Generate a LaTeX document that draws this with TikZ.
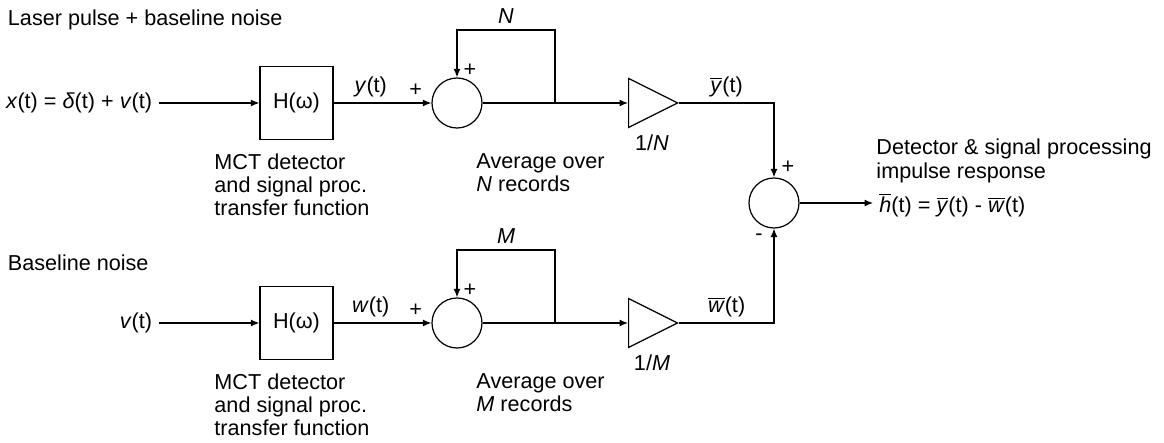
\documentclass[tikz,border=0pt]{standalone}
\usepackage{fontspec}
\setmainfont{Liberation Sans}
\usetikzlibrary{positioning,shapes.geometric,arrows.meta}
\newcommand{\ovl}[1]{$\overline{\hbox{\textit{#1}}}$}

\begin{document}
\begin{tikzpicture}[
  font=\fontsize{12.3}{13.2}\selectfont, line width=0.7pt,
  box/.style={draw, minimum size=1.46cm, inner sep=0pt},
  sumc/.style={draw, circle, minimum size=1cm, inner sep=0pt},
  amp/.style={draw, isosceles triangle, isosceles triangle stretches,
              minimum width=0.98cm, minimum height=0.98cm, inner sep=0pt},
  arr/.style={-{Latex[length=1.7mm, width=1.4mm]}},
  lbl/.style={align=left},
]
\useasboundingbox (0,0) rectangle (23.28,8.86);

% ---- Top branch: pulse + noise ----
\node[anchor=west] (ttl1) at (0.03, 8.46) {Laser pulse + baseline noise};
\node[anchor=east] (x1) at (3.17, 6.80) {\textit{x}(t) = \textit{δ}(t) + \textit{v}(t)};
\node[box] (h1) at (5.93, 6.80) {H(ω)};
\node[lbl, anchor=west] (h1txt) at (4.16, 5.16)
  {MCT detector\\and signal proc.\\transfer function};
\node[sumc] (s1) at (9.14, 6.80) {};
\coordinate (br1) at (11.10, 6.80);
\coordinate (top1) at (11.10, 8.26);
\node[amp, anchor=lower side] (a1) at (12.56, 6.80) {};
\node (g1) at (13.04, 6.00) {1/\textit{N}};
\node[lbl, anchor=west] (avg1) at (9.40, 5.40) {Average over\\\textit{N} records};

\draw[arr] (x1) -- (h1);
\draw[arr] (h1) -- node[pos=0.38, above] {\textit{y}(t)}
                   node[pos=0.84, above] {+} (s1);
\draw (s1) -- (br1);
\draw[arr] (br1) -- (a1.lower side);
\draw[arr] (br1) -- (top1) -| node[pos=0.25, above] {\textit{N}} (s1.north);
\node (p1) at (9.40, 7.46) {+};

% ---- Bottom branch: noise only ----
\node[anchor=west] (ttl2) at (0.03, 3.60) {Baseline noise};
\node[anchor=east] (v2) at (3.17, 2.40) {\textit{v}(t)};
\node[box] (h2) at (5.93, 2.40) {H(ω)};
\node[lbl, anchor=west] (h2txt) at (4.16, 0.76)
  {MCT detector\\and signal proc.\\transfer function};
\node[sumc] (s2) at (9.14, 2.40) {};
\coordinate (br2) at (11.10, 2.40);
\coordinate (top2) at (11.10, 3.86);
\node[amp, anchor=lower side] (a2) at (12.56, 2.40) {};
\node (g2) at (13.04, 1.60) {1/\textit{M}};
\node[lbl, anchor=west] (avg2) at (9.40, 1.00) {Average over\\\textit{M} records};

\draw[arr] (v2) -- (h2);
\draw[arr] (h2) -- node[pos=0.38, above] {\textit{w}(t)}
                   node[pos=0.84, above] {+} (s2);
\draw (s2) -- (br2);
\draw[arr] (br2) -- (a2.lower side);
\draw[arr] (br2) -- (top2) -| node[pos=0.25, above] {\textit{M}} (s2.north);
\node (p2) at (9.40, 3.06) {+};

% ---- Difference ----
\node[sumc] (c) at (15.48, 4.80) {};
\draw[arr] (a1.apex) -| node[pos=0.25, above] {\ovl{y}(t)} (c.north);
\draw[arr] (a2.apex) -| node[pos=0.25, above] {\ovl{w}(t)} (c.south);
\node (pc) at (15.76, 5.52) {+};
\node (mc) at (15.18, 4.12) {-};
\node[anchor=west] (hbar) at (17.46, 4.76)
  {\ovl{h}(t) = \ovl{y}(t) - \ovl{w}(t)};
\node[lbl, anchor=west] (resp) at (17.40, 5.64)
  {Detector \& signal processing\\impulse response};
\draw[arr] (c) -- (c -| hbar.west);

\end{tikzpicture}
\end{document}
